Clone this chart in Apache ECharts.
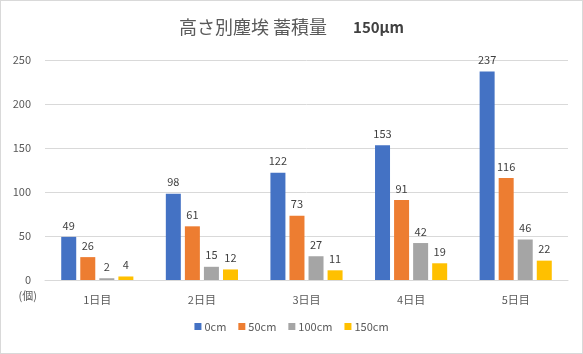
<!DOCTYPE html>
<html><head><meta charset="utf-8">
<script src="https://cdn.jsdelivr.net/npm/echarts@6/dist/echarts.min.js"></script>
<style>html,body{margin:0;padding:0;background:#fff}#c{width:583px;height:354px;box-sizing:border-box;border:1px solid #d9d9d9}</style>
</head><body><div id="c"></div>
<script>
const categories = ['1日目','2日目','3日目','4日目','5日目'];
const seriesNames = ['0cm','50cm','100cm','150cm'];
const s0 = [49, 98, 122, 153, 237];
const s50 = [26, 61, 73, 91, 116];
const s100 = [2, 15, 27, 42, 46];
const s150 = [4, 12, 11, 19, 22];
const colors = ['#4472C4','#ED7D31','#A5A5A5','#FFC000'];
const chart = echarts.init(document.getElementById('c'));
const font = '"Noto Sans CJK JP", "Noto Sans", sans-serif';
const mk = (name, data, i) => ({
  name, type: 'bar', data, barWidth: 15,
  barGap: '27%', barCategoryGap: '31%',
  itemStyle: {color: colors[i]},
  label: {show: true, position: 'top', distance: 6, color: '#404040', fontSize: 11, fontFamily: font}
});
chart.setOption({
  animation: false,
  textStyle: {fontFamily: font},
  title: {
    text: '{a|高さ別塵埃 蓄積量}{s|}{b|150μm}', left: 'center', top: 12,
    textStyle: {fontWeight: 'normal', rich: {
      a: {fontSize: 18, color: '#595959', fontFamily: font, fontWeight: 'normal'},
      s: {width: 26},
      b: {fontSize: 15, color: '#404040', fontWeight: 'bold', fontFamily: font}
    }}
  },
  legend: {
    bottom: 16, left: 'center', itemWidth: 7, itemHeight: 7, itemGap: 12,
    icon: 'rect', textStyle: {fontSize: 11, color: '#595959', padding: [0,0,0,-2]},
    data: seriesNames
  },
  grid: {left: 44, right: 14, top: 59, bottom: 73},
  xAxis: {
    type: 'category', data: categories,
    axisLine: {lineStyle: {color: '#d9d9d9'}}, axisTick: {show: false},
    axisLabel: {color: '#595959', fontSize: 11, margin: 14}
  },
  yAxis: {
    type: 'value', min: 0, max: 250, interval: 50,
    name: '(個)', nameLocation: 'start', nameGap: 10,
    nameTextStyle: {color: '#595959', fontSize: 11, align: 'right', padding: [0, 8, 0, 0]},
    axisLine: {show: false}, axisTick: {show: false},
    axisLabel: {color: '#595959', fontSize: 11, margin: 14},
    splitLine: {lineStyle: {color: '#d9d9d9'}}
  },
  series: [mk(seriesNames[0], s0, 0), mk(seriesNames[1], s50, 1), mk(seriesNames[2], s100, 2), mk(seriesNames[3], s150, 3)]
});
</script></body></html>
